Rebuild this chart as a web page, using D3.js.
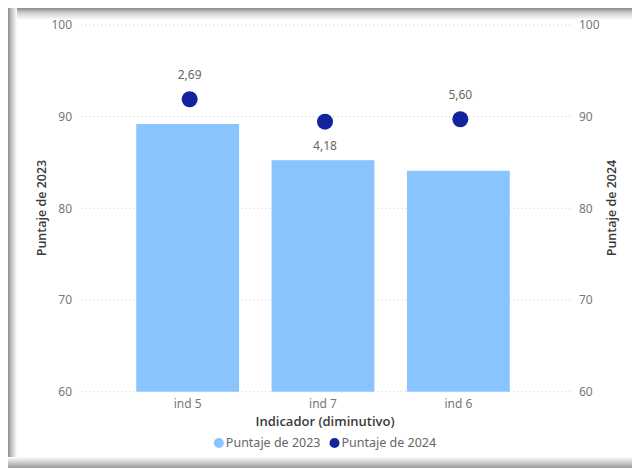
<!DOCTYPE html>
<html>
<head>
<meta charset="utf-8">
<script src="https://cdn.jsdelivr.net/npm/d3@7"></script>
<style>
  body { margin: 0; background: #fff; }
  svg text { font-family: "Segoe UI", "Noto Sans", sans-serif; }
  svg text.title { font-family: "Segoe UI Semibold", "Open Sans", sans-serif; font-weight: 600; }
</style>
</head>
<body>
<svg id="chart" width="632" height="468"></svg>
<script>
// data
var categories = ["ind 5", "ind 7", "ind 6"]
var puntaje2023 = [89.2, 85.25, 84.1]
var puntaje2024 = [91.9, 89.45, 89.72]
var diffLabels = ["2,69", "4,18", "5,60"]
var yTicks = [60, 70, 80, 90, 100]
var legendNames = ["Puntaje de 2023", "Puntaje de 2024"]

var barColor = "#8AC4FF"
var dotColor = "#12239E"

var svg = d3.select("#chart")

// card shadow round the visual
var defs = svg.append("defs")
function grad(id, x2, y2, stops) {
  var g = defs.append("linearGradient").attr("id", id)
    .attr("x1", 0).attr("y1", 0).attr("x2", x2).attr("y2", y2)
  stops.forEach(s => g.append("stop").attr("offset", s[0]).attr("stop-color", s[1]))
}
grad("shL", 1, 0, [[0, "#8a8a8a"], [0.35, "#bdbdbd"], [1, "#ffffff"]])
grad("shT", 0, 1, [[0, "#8a8a8a"], [0.4, "#cfcfcf"], [1, "#ffffff"]])
grad("shB", 0, 1, [[0, "#ffffff"], [1, "#9a9a9a"]])
svg.append("rect").attr("x", 8).attr("y", 8).attr("width", 624).attr("height", 12).attr("fill", "url(#shT)")
svg.append("rect").attr("x", 8).attr("y", 8).attr("width", 9).attr("height", 460).attr("fill", "url(#shL)")
svg.append("rect").attr("x", 8).attr("y", 457).attr("width", 624).attr("height", 11).attr("fill", "url(#shB)")

var y = d3.scaleLinear().domain([60, 100]).range([391.7, 25])
var x = d3.scaleBand().domain(categories).range([120, 526])
  .paddingInner(0.24).paddingOuter(0.12)

// dotted grid
svg.append("g").selectAll("line")
  .data(yTicks)
  .enter().append("line")
  .attr("x1", 81).attr("x2", 570)
  .attr("y1", d => y(d)).attr("y2", d => y(d))
  .attr("stroke", "#c8c8c8")
  .attr("stroke-width", 1)
  .attr("stroke-dasharray", "1,3")

// left and right axes, ticks only as text
var leftAxis = svg.append("g")
  .attr("transform", "translate(72,0)")
  .call(d3.axisLeft(y).tickValues(yTicks).tickSize(0).tickPadding(0))
var rightAxis = svg.append("g")
  .attr("transform", "translate(579,0)")
  .call(d3.axisRight(y).tickValues(yTicks).tickSize(0).tickPadding(0))
;[leftAxis, rightAxis].forEach(a => {
  a.select(".domain").remove()
  a.selectAll("text")
    .attr("fill", "#777")
    .style("font-size", "12px")
})

// bars
svg.append("g").selectAll("rect")
  .data(puntaje2023)
  .enter().append("rect")
  .attr("x", (d, i) => x(categories[i]))
  .attr("width", x.bandwidth())
  .attr("y", d => y(d))
  .attr("height", d => y(60) - y(d))
  .attr("fill", barColor)

// x axis labels
var bottomAxis = svg.append("g")
  .attr("transform", "translate(0,392)")
  .call(d3.axisBottom(x).tickSize(0).tickPadding(7))
bottomAxis.select(".domain").remove()
bottomAxis.selectAll("text")
  .attr("fill", "#777")
  .style("font-size", "12px")

// dots
var cx = i => x(categories[i]) + x.bandwidth() / 2 + 2
svg.append("g").selectAll("circle")
  .data(puntaje2024)
  .enter().append("circle")
  .attr("cx", (d, i) => cx(i))
  .attr("cy", d => y(d))
  .attr("r", 8)
  .attr("fill", dotColor)

// data labels (second one sits under its dot)
var labelBelow = [false, true, false]
svg.append("g").selectAll("text")
  .data(diffLabels)
  .enter().append("text")
  .attr("x", (d, i) => cx(i))
  .attr("y", (d, i) => y(puntaje2024[i]) + (labelBelow[i] ? 24 : -24))
  .attr("dy", "0.35em")
  .attr("text-anchor", "middle")
  .attr("fill", "#666")
  .style("font-size", "12px")
  .text(d => d)

// axis titles
svg.append("text").attr("class", "title")
  .attr("transform", "translate(42,208) rotate(-90)")
  .attr("text-anchor", "middle").attr("dy", "0.35em")
  .attr("fill", "#3a3a3a")
  .style("font-size", "12.5px")
  .text("Puntaje de 2023")
svg.append("text").attr("class", "title")
  .attr("transform", "translate(612,208) rotate(-90)")
  .attr("text-anchor", "middle").attr("dy", "0.35em")
  .attr("fill", "#3a3a3a")
  .style("font-size", "12.5px")
  .text("Puntaje de 2024")
svg.append("text").attr("class", "title")
  .attr("x", 325).attr("y", 421)
  .attr("text-anchor", "middle").attr("dy", "0.35em")
  .attr("fill", "#3a3a3a")
  .style("font-size", "13px")
  .text("Indicador (diminutivo)")

// legend, laid out from text widths and centred
var lg = svg.append("g")
var items = lg.selectAll("g")
  .data(legendNames)
  .enter().append("g")
items.append("circle")
  .attr("r", 5)
  .attr("fill", (d, i) => i == 0 ? barColor : dotColor)
items.append("text")
  .attr("x", 7).attr("dy", "0.35em")
  .attr("fill", "#666")
  .style("font-size", "12.5px")
  .text(d => d)
var pos = 0
items.each(function(d, i) {
  var w = d3.select(this).select("text").node().getComputedTextLength()
  d3.select(this).attr("transform", `translate(${pos},0)`)
  pos += 5 + 7 + w + 4 + 5
})
var total = pos - 4 - 5
lg.attr("transform", `translate(${325 - total / 2 + 5},443)`)
</script>
</body>
</html>
